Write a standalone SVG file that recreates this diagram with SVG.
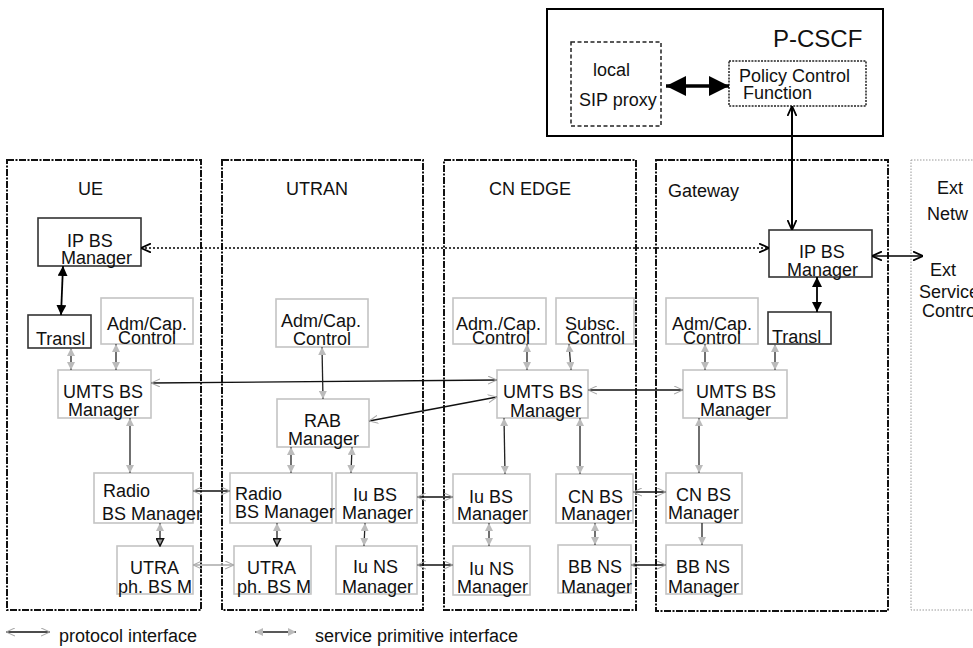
<svg xmlns="http://www.w3.org/2000/svg" width="973" height="648" viewBox="0 0 973 648">
<style>
text{font-family:"Liberation Sans",Arial,sans-serif;font-size:18px;fill:#111}
.g{fill:#fff;stroke:#c4c4c4;stroke-width:1.6}
.k{fill:#fff;stroke:#333;stroke-width:1.6}
.col{fill:none;stroke:#111;stroke-width:2;stroke-dasharray:7 1.5 2 1.5}
.ext{fill:none;stroke:#999;stroke-width:1;stroke-dasharray:1.5 1.5}
.pi{fill:none;stroke:#111;stroke-width:1.3;marker-start:url(#og);marker-end:url(#og)}
.pig{fill:none;stroke:#aaa;stroke-width:1.3;marker-start:url(#og);marker-end:url(#og)}
.sp{fill:none;stroke:#222;stroke-width:1.3;marker-start:url(#fg);marker-end:url(#fg)}
.kb{fill:none;stroke:#000;stroke-width:1.8;marker-start:url(#fk);marker-end:url(#fk)}
.ko{fill:none;stroke:#000;stroke-width:1.5;marker-start:url(#ok);marker-end:url(#ok)}
</style>
<defs>
<marker id="og" viewBox="0 0 10 10" refX="10" refY="5" markerWidth="9" markerHeight="9" markerUnits="userSpaceOnUse" orient="auto-start-reverse"><path d="M0,0.5 L10,5 L0,9.5" fill="none" stroke="#aaa" stroke-width="1.2"/></marker>
<marker id="fg" viewBox="0 0 10 10" refX="10" refY="5" markerWidth="8" markerHeight="8" markerUnits="userSpaceOnUse" orient="auto-start-reverse"><path d="M0,0 L10,5 L0,10 Z" fill="#bbb"/></marker>
<marker id="fk" viewBox="0 0 10 10" refX="10" refY="5" markerWidth="10" markerHeight="10" markerUnits="userSpaceOnUse" orient="auto-start-reverse"><path d="M0,0 L10,5 L0,10 Z" fill="#000"/></marker>
<marker id="ok" viewBox="0 0 10 10" refX="10" refY="5" markerWidth="10" markerHeight="10" markerUnits="userSpaceOnUse" orient="auto-start-reverse"><path d="M0,0.5 L10,5 L0,9.5" fill="none" stroke="#000" stroke-width="1.8"/></marker>
<marker id="fb" viewBox="0 0 10 10" refX="10" refY="5" markerWidth="20" markerHeight="20" markerUnits="userSpaceOnUse" orient="auto-start-reverse"><path d="M0,0 L10,5 L0,10 Z" fill="#000"/></marker>
<marker id="td" viewBox="0 0 10 10" refX="9" refY="5" markerWidth="9" markerHeight="9" markerUnits="userSpaceOnUse" orient="auto-start-reverse"><path d="M1,1 L9,5 L1,9 Z" fill="#999" stroke="#111" stroke-width="1.6"/></marker>
</defs>

<g id="pcscf">
<rect x="547" y="9" width="336" height="127" fill="#fff" stroke="#000" stroke-width="2"/>
<text x="773" y="47" style="font-size:24px">P-CSCF</text>
</g>
<g id="sip-proxy">
<rect x="571" y="42" width="90" height="84" fill="none" stroke="#222" stroke-width="1.5" stroke-dasharray="4 2.5"/>
<text x="593" y="76">local</text>
<text x="579" y="106">SIP proxy</text>
</g>
<g id="pcf">
<rect x="729" y="61" width="137" height="45" fill="none" stroke="#222" stroke-width="1.5" stroke-dasharray="2 1.2"/>
<text x="739" y="82">Policy Control</text>
<text x="743" y="99">Function</text>
</g>

<g id="col-ue"><rect class="col" x="7" y="160" width="194" height="450"/><text x="78" y="195">UE</text></g>
<g id="col-utran"><rect class="col" x="222" y="160" width="201" height="450"/><text x="286" y="195">UTRAN</text></g>
<g id="col-cn"><rect class="col" x="444" y="160" width="192" height="450"/><text x="489" y="195">CN EDGE</text></g>
<g id="col-gw"><rect class="col" x="656" y="160" width="232" height="451"/><text x="668" y="197">Gateway</text></g>
<g id="col-ext"><rect class="ext" x="911" y="160" width="80" height="450"/>
<text x="937" y="194">Ext</text><text x="927" y="220">Netw</text>
<text x="930" y="276">Ext</text><text x="919" y="298">Service</text><text x="922" y="317">Control</text></g>

<g id="ue-ipbs"><rect class="k" x="38" y="218" width="103" height="48"/><text x="67" y="247">IP BS</text><text x="61" y="264">Manager</text></g>
<g id="ue-transl"><rect class="k" x="28" y="315" width="63" height="33"/><text x="36" y="345">Transl</text></g>
<g id="ue-adm"><rect class="g" x="101" y="298" width="92" height="46"/><text x="107" y="330">Adm/Cap.</text><text x="118" y="344">Control</text></g>
<g id="ue-umts"><rect class="g" x="58" y="370" width="93" height="48"/><text x="63" y="398">UMTS BS</text><text x="68" y="416">Manager</text></g>
<g id="ue-radio"><rect class="g" x="94" y="473" width="99" height="50"/><text x="103" y="497">Radio</text><text x="102" y="520">BS Manager</text></g>
<g id="ue-utra"><rect class="g" x="117" y="546" width="76" height="48"/><text x="130" y="574">UTRA</text><text x="118" y="593">ph. BS M</text></g>

<g id="utran-adm"><rect class="g" x="276" y="299" width="92" height="48"/><text x="281" y="327">Adm/Cap.</text><text x="293" y="345">Control</text></g>
<g id="utran-rab"><rect class="g" x="277" y="399" width="92" height="48"/><text x="304" y="427">RAB</text><text x="288" y="445">Manager</text></g>
<g id="utran-radio"><rect class="g" x="230" y="473" width="102" height="50"/><text x="235" y="500">Radio</text><text x="235" y="518">BS Manager</text></g>
<g id="utran-iubs"><rect class="g" x="336" y="473" width="81" height="50"/><text x="353" y="501">Iu BS</text><text x="342" y="519">Manager</text></g>
<g id="utran-utra"><rect class="g" x="234" y="546" width="77" height="48"/><text x="247" y="574">UTRA</text><text x="237" y="593">ph. BS M</text></g>
<g id="utran-iuns"><rect class="g" x="336" y="546" width="81" height="48"/><text x="353" y="573">Iu NS</text><text x="342" y="593">Manager</text></g>

<g id="cn-adm"><rect class="g" x="453" y="298" width="93" height="46"/><text x="456" y="330">Adm./Cap.</text><text x="472" y="344">Control</text></g>
<g id="cn-subsc"><rect class="g" x="556" y="298" width="78" height="46"/><text x="565" y="330">Subsc.</text><text x="567" y="344">Control</text></g>
<g id="cn-umts"><rect class="g" x="497" y="370" width="91" height="48"/><text x="503" y="398">UMTS BS</text><text x="510" y="417">Manager</text></g>
<g id="cn-iubs"><rect class="g" x="453" y="474" width="77" height="49"/><text x="469" y="503">Iu BS</text><text x="457" y="520">Manager</text></g>
<g id="cn-cnbs"><rect class="g" x="556" y="474" width="77" height="49"/><text x="568" y="503">CN BS</text><text x="561" y="520">Manager</text></g>
<g id="cn-iuns"><rect class="g" x="453" y="546" width="77" height="49"/><text x="469" y="575">Iu NS</text><text x="457" y="593">Manager</text></g>
<g id="cn-bbns"><rect class="g" x="558" y="545" width="73" height="48"/><text x="568" y="573">BB NS</text><text x="561" y="593">Manager</text></g>

<g id="gw-ipbs"><rect class="k" x="769" y="230" width="103" height="47"/><text x="799" y="258">IP BS</text><text x="787" y="276">Manager</text></g>
<g id="gw-adm"><rect class="g" x="666" y="298" width="92" height="46"/><text x="672" y="330">Adm/Cap.</text><text x="683" y="344">Control</text></g>
<g id="gw-transl"><rect class="k" x="768" y="312" width="63" height="32"/><text x="772" y="343">Transl</text></g>
<g id="gw-umts"><rect class="g" x="683" y="370" width="104" height="48"/><text x="696" y="398">UMTS BS</text><text x="700" y="416">Manager</text></g>
<g id="gw-cnbs"><rect class="g" x="666" y="473" width="76" height="50"/><text x="676" y="501">CN BS</text><text x="668" y="519">Manager</text></g>
<g id="gw-bbns"><rect class="g" x="666" y="545" width="76" height="49"/><text x="676" y="573">BB NS</text><text x="668" y="593">Manager</text></g>

<g id="connectors">
<line x1="666" y1="86" x2="729" y2="86" stroke="#000" stroke-width="3.5" marker-start="url(#fb)" marker-end="url(#fb)"/>
<line class="ko" x1="792" y1="106" x2="792" y2="230" style="stroke-width:2"/>
<line class="ko" x1="141" y1="248" x2="769" y2="248" style="stroke-dasharray:2 2"/>
<line class="ko" x1="872" y1="256" x2="923" y2="256" style="stroke-width:1.3"/>
<line class="kb" x1="63" y1="266" x2="61" y2="315"/>
<line class="kb" x1="817" y1="277" x2="817" y2="312"/>

<line class="pi" x1="151" y1="383" x2="497" y2="380"/>
<line class="pi" x1="369" y1="421" x2="497" y2="397"/>
<line class="pi" x1="588" y1="390" x2="683" y2="390"/>
<line class="pi" x1="193" y1="491" x2="230" y2="491"/>
<line class="pig" x1="193" y1="565" x2="234" y2="565"/>
<line class="pi" x1="417" y1="497" x2="453" y2="497"/>
<line class="pi" x1="417" y1="565" x2="453" y2="565"/>
<line class="pi" x1="633" y1="492" x2="666" y2="492"/>
<line class="pi" x1="631" y1="565" x2="666" y2="565"/>

<line class="sp" x1="71" y1="348" x2="71" y2="370"/>
<line class="sp" x1="116" y1="344" x2="116" y2="370"/>
<line class="sp" x1="130" y1="418" x2="130" y2="473"/>
<line class="sp" x1="160" y1="523" x2="160" y2="546" style="marker-end:url(#td)"/>

<line class="sp" x1="322" y1="347" x2="323" y2="399"/>
<line class="sp" x1="291" y1="447" x2="291" y2="473"/>
<line class="sp" x1="352" y1="447" x2="351" y2="473"/>
<line class="sp" x1="277" y1="523" x2="277" y2="546" style="marker-end:url(#td)"/>
<line class="sp" x1="365" y1="523" x2="364" y2="546"/>

<line class="sp" x1="527" y1="344" x2="527" y2="370"/>
<line class="sp" x1="569" y1="344" x2="571" y2="370"/>
<line class="sp" x1="504" y1="418" x2="505" y2="474"/>
<line class="sp" x1="580" y1="418" x2="580" y2="474"/>
<line class="sp" x1="489" y1="523" x2="489" y2="546"/>
<line class="sp" x1="595" y1="523" x2="595" y2="545"/>

<line class="sp" x1="705" y1="344" x2="705" y2="370"/>
<line class="sp" x1="775" y1="344" x2="775" y2="370"/>
<line class="sp" x1="699" y1="418" x2="699" y2="473"/>
<line class="sp" x1="702" y1="523" x2="702" y2="545" style="marker-start:none"/>
</g>

<g id="legend">
<line class="pi" x1="6" y1="632" x2="50" y2="632"/>
<text x="59" y="642">protocol interface</text>
<line class="sp" x1="255" y1="632" x2="296" y2="632"/>
<text x="315" y="642">service primitive interface</text>
</g>
</svg>
